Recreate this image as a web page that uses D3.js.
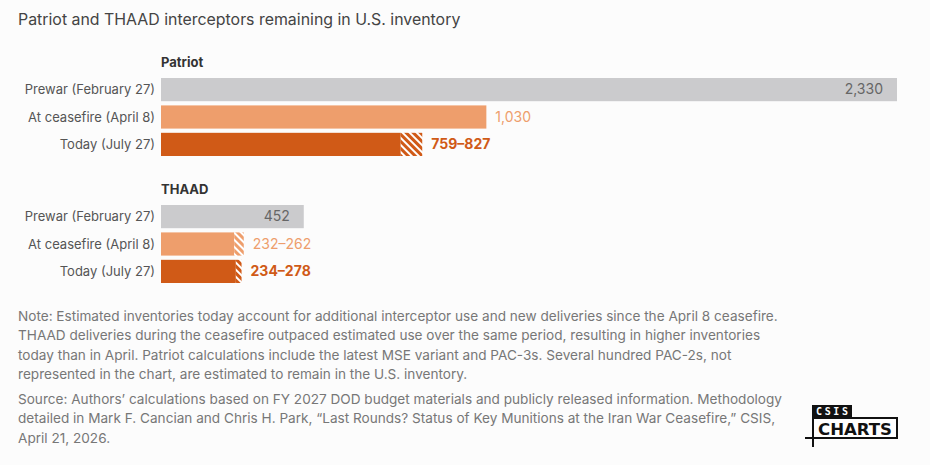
<!DOCTYPE html>
<html>
<head>
<meta charset="utf-8">
<script src="https://cdn.jsdelivr.net/npm/d3@7"></script>
<style>
  body { margin: 0; background: #fcfcfc; }
  svg { display: block; font-family: "Inter", "Roboto", sans-serif; }
</style>
</head>
<body>
<svg id="chart" width="930" height="465"></svg>
<script>
// categories
const groups = ["Patriot", "THAAD"];
const rows = ["Prewar (February 27)", "At ceasefire (April 8)", "Today (July 27)"];

// low / high estimates per group (bar = low, hatched part = low..high)
const patriotLow = [2330, 1030, 759];
const patriotHigh = [2330, 1030, 827];
const thaadLow = [452, 232, 237];
const thaadHigh = [452, 262, 255];

// value labels as printed
const patriotLabels = ["2,330", "1,030", "759–827"];
const thaadLabels = ["452", "232–262", "234–278"];

const notes = [
    "Note: Estimated inventories today account for additional interceptor use and new deliveries since the April 8 ceasefire.",
    "THAAD deliveries during the ceasefire outpaced estimated use over the same period, resulting in higher inventories",
    "today than in April. Patriot calculations include the latest MSE variant and PAC-3s. Several hundred PAC-2s, not",
    "represented in the chart, are estimated to remain in the U.S. inventory."
];
const sources = [
    "Source: Authors’ calculations based on FY 2027 DOD budget materials and publicly released information. Methodology",
    "detailed in Mark F. Cancian and Chris H. Park, “Last Rounds? Status of Key Munitions at the Iran War Ceasefire,” CSIS,",
    "April 21, 2026."
];

const COLORS = ["#cbcbcd", "#ee9e6c", "#d05a17"];
const LABEL_COLORS = ["#666666", "#ee9e6c", "#d05a17"];

var svg = d3.select("#chart");

// hatch patterns
var defs = svg.append("defs");
COLORS.forEach(function (c, i) {
    var p = defs.append("pattern")
        .attr("id", "hatch-" + i)
        .attr("patternUnits", "userSpaceOnUse")
        .attr("width", 5)
        .attr("height", 5)
        .attr("patternTransform", "rotate(-45)");
    p.append("rect").attr("width", 5).attr("height", 5).attr("fill", c);
    p.append("rect").attr("x", 0).attr("width", 2).attr("height", 5).attr("fill", "#ffffff");
});

svg.append("text")
    .attr("x", 18)
    .attr("y", 25)
    .attr("fill", "#444")
    .attr("font-size", "15.9")
    .text("Patriot and THAAD interceptors remaining in U.S. inventory");

var x = d3.scaleLinear().domain([0, 2330]).range([161, 897]);
var y = d3.scaleBand().domain(rows).range([0, 78]).paddingInner(4 / 26).paddingOuter(0);

var data = [
    { name: groups[0], low: patriotLow, high: patriotHigh, labels: patriotLabels, top: 78 },
    { name: groups[1], low: thaadLow, high: thaadHigh, labels: thaadLabels, top: 205 }
];

data.forEach(function (grp) {
    var g = svg.append("g").attr("transform", "translate(0," + grp.top + ")");

    g.append("text")
        .attr("x", 161)
        .attr("y", -11)
        .attr("fill", "#333")
        .attr("font-size", "13")
        .attr("font-weight", "bold")
        .text(grp.name);

    rows.forEach(function (r, i) {
        var by = y(r), bh = y.bandwidth();
        var lo = grp.low[i], hi = grp.high[i];

        g.append("text")
            .attr("x", 155)
            .attr("y", by + bh / 2)
            .attr("dy", "0.35em")
            .attr("text-anchor", "end")
            .attr("fill", "#555")
            .attr("font-size", "13")
            .text(r);

        g.append("rect")
            .attr("x", x(0))
            .attr("y", by)
            .attr("width", x(lo) - x(0))
            .attr("height", bh)
            .attr("fill", COLORS[i]);

        if (hi > lo) {
            g.append("rect")
                .attr("x", x(lo))
                .attr("y", by)
                .attr("width", x(hi) - x(lo))
                .attr("height", bh)
                .attr("fill", "url(#hatch-" + i + ")");
        }

        var inside = (i == 0);
        g.append("text")
            .attr("x", inside ? x(hi) - 14 : x(hi) + 9)
            .attr("y", by + bh / 2)
            .attr("dy", "0.35em")
            .attr("text-anchor", inside ? "end" : "start")
            .attr("fill", LABEL_COLORS[i])
            .attr("font-size", "14")
            .attr("font-weight", i == 2 ? "bold" : "normal")
            .text(grp.labels[i]);
    });
});

// notes
var foot = svg.append("g").attr("fill", "#777").attr("font-size", "13.6");
notes.forEach(function (line, i) {
    foot.append("text").attr("x", 18).attr("y", 321 + i * 19.3).text(line);
});
sources.forEach(function (line, i) {
    foot.append("text").attr("x", 18).attr("y", 404 + i * 19.3).text(line);
});

// logo
var logo = svg.append("g").attr("transform", "translate(812,405)");
logo.append("rect").attr("x", 0).attr("y", 0).attr("width", 40).attr("height", 13).attr("fill", "#111");
logo.append("text")
    .attr("x", 4).attr("y", 10)
    .attr("fill", "#fff")
    .attr("font-family", "DejaVu Sans Mono")
    .attr("font-weight", "bold")
    .attr("font-size", "10")
    .attr("textLength", 32)
    .text("CSIS");
logo.append("rect")
    .attr("x", 1).attr("y", 13)
    .attr("width", 84).attr("height", 20)
    .attr("fill", "#fff")
    .attr("stroke", "#111")
    .attr("stroke-width", 2);
logo.append("text")
    .attr("x", 6).attr("y", 29.5)
    .attr("fill", "#111")
    .attr("font-family", "DejaVu Sans Condensed")
    .attr("font-weight", "bold")
    .attr("font-size", "16")
    .attr("textLength", 74)
    .attr("lengthAdjust", "spacingAndGlyphs")
    .text("CHARTS");
logo.append("line").attr("x1", -7).attr("x2", 2).attr("y1", 33).attr("y2", 33).attr("stroke", "#111").attr("stroke-width", 2);
logo.append("line").attr("x1", 1).attr("x2", 1).attr("y1", 13).attr("y2", 42).attr("stroke", "#111").attr("stroke-width", 2);
</script>
</body>
</html>
